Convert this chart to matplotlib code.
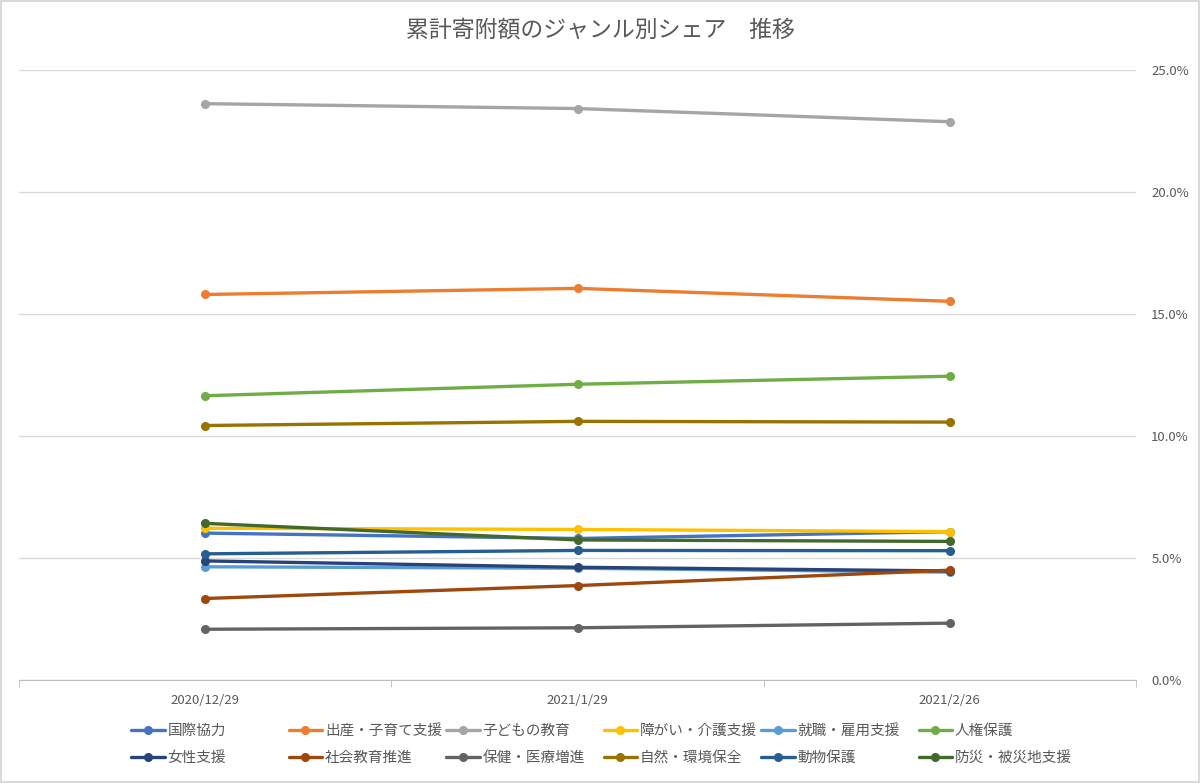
import matplotlib
matplotlib.use('Agg')
import matplotlib.pyplot as plt
import numpy as np

plt.rcParams['font.family'] = ['Noto Sans CJK JP', 'DejaVu Sans']

dates = ['2020/12/29', '2021/1/29', '2021/2/26']

genres = ['国際協力', '出産・子育て支援', '子どもの教育', '障がい・介護支援', '就職・雇用支援', '人権保護',
          '女性支援', '社会教育推進', '保健・医療増進', '自然・環境保全', '動物保護', '防災・被災地支援']

# share (%)
kokusai = [6.02, 5.80, 6.08]
shussan = [15.80, 16.05, 15.52]
kodomo = [23.62, 23.42, 22.88]
shogai = [6.22, 6.17, 6.08]
shushoku = [4.64, 4.58, 4.42]
jinken = [11.65, 12.12, 12.45]
josei = [4.88, 4.62, 4.47]
shakai = [3.34, 3.87, 4.50]
hoken = [2.08, 2.14, 2.33]
shizen = [10.43, 10.60, 10.57]
dobutsu = [5.17, 5.31, 5.30]
bosai = [6.42, 5.74, 5.68]

series = [kokusai, shussan, kodomo, shogai, shushoku, jinken,
          josei, shakai, hoken, shizen, dobutsu, bosai]

colors = ['#4472C4', '#ED7D31', '#A5A5A5', '#FFC000', '#5B9BD5', '#70AD47',
          '#264478', '#9E480E', '#636363', '#997300', '#255E91', '#43682B']

fig = plt.figure(figsize=(12, 7.83), dpi=100)
fig.patch.set_edgecolor('#D9D9D9')
fig.patch.set_linewidth(1.5)
ax = fig.add_axes([19/1200, 1 - 680/783, 1117/1200, 610/783])

x = np.arange(len(dates))
handles = []
for name, vals, c in zip(genres, series, colors):
    h, = ax.plot(x, np.array(vals) / 100, color=c, lw=2.4, marker='o', ms=5.5,
                 solid_capstyle='round', label=name)
    handles.append(h)

ax.set_xlim(-0.5, 2.5)
ax.set_ylim(0, 0.25)
ax.set_yticks(np.arange(0, 0.2501, 0.05))
ax.set_yticklabels(['%.1f%%' % (v * 100) for v in np.arange(0, 0.2501, 0.05)])
ax.yaxis.tick_right()
ax.tick_params(axis='y', length=0, pad=11, labelsize=9.5, labelcolor='#595959')
ax.grid(axis='y', color='#D9D9D9', lw=1)
ax.set_axisbelow(True)

ax.set_xticks(x)
ax.set_xticklabels(dates)
ax.set_xticks([-0.5, 0.5, 1.5, 2.5], minor=True)
ax.tick_params(axis='x', which='major', length=0, pad=10, labelsize=9.5, labelcolor='#595959')
ax.tick_params(axis='x', which='minor', length=5, color='#BFBFBF', direction='out')

for s in ['left', 'right', 'top']:
    ax.spines[s].set_visible(False)
ax.spines['bottom'].set_color('#BFBFBF')

fig.text(0.5, 1 - 30/783, '累計寄附額のジャンル別シェア\u3000推移', ha='center', va='center',
         fontsize=16.5, color='#595959')

# legend: 2 rows x 6 columns, fixed spacing
for i, h in enumerate(handles):
    col = i % 6
    row = i // 6
    fig.legend(handles=[h], loc='center left', frameon=False,
               bbox_to_anchor=((131 + col * 157.5) / 1200, 1 - (731 + row * 27) / 783),
               borderpad=0, borderaxespad=0, handlelength=2.3, handletextpad=0.2,
               fontsize=10.5, labelcolor='#595959')

fig.savefig('out.png', dpi=100)
